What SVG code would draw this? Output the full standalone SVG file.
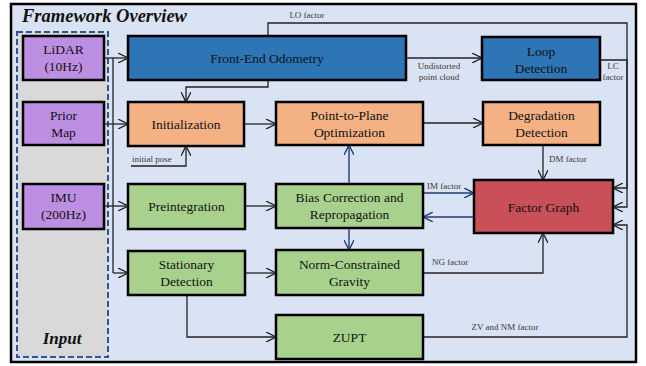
<svg xmlns="http://www.w3.org/2000/svg" width="646" height="366" viewBox="0 0 646 366">
<style>
text{font-family:"Liberation Serif","DejaVu Serif",serif;fill:#111}
.box{stroke:#000;stroke-width:2.5}
.lbl{font-size:13.5px;text-anchor:middle}
.sm{font-size:9px;fill:#3a3a3a}
.c{fill:none;stroke:#222;stroke-width:1.3}
.n{fill:none;stroke:#1f3c78;stroke-width:1.4}
.blue{fill:#2e75b6}.org{fill:#f4b183}.grn{fill:#a9d18e}.pur{fill:#bd8fe2}.red{fill:#c94f58}
</style>
<defs>
<marker id="a" viewBox="0 0 10 10" refX="10" refY="5" markerWidth="10" markerHeight="10" markerUnits="userSpaceOnUse" orient="auto"><path d="M0,0 L10,5 L0,10" fill="none" stroke="#222" stroke-width="1.3"/></marker>
<marker id="an" viewBox="0 0 10 10" refX="10" refY="5" markerWidth="10" markerHeight="10" markerUnits="userSpaceOnUse" orient="auto"><path d="M0,0 L10,5 L0,10" fill="none" stroke="#1f3c78" stroke-width="1.4"/></marker>
</defs>
<rect x="11" y="4" width="625" height="358" fill="#dae3f3" stroke="#000" stroke-width="2.5"/>
<text x="22" y="22" font-size="18.5" font-weight="bold" font-style="italic">Framework Overview</text>
<g id="input-panel">
<rect x="17" y="32" width="91" height="325" fill="#d9d9d9" stroke="#2f5597" stroke-width="2" stroke-dasharray="6,3"/>
<text x="62" y="344" font-size="17" font-weight="bold" font-style="italic" text-anchor="middle">Input</text>
</g>
<g id="connectors">
<path class="c" d="M104,58 H128" marker-end="url(#a)"/>
<path class="c" d="M113,58 V273"/>
<path class="c" d="M104,124 H128" marker-end="url(#a)"/>
<path class="c" d="M104,206 H128" marker-end="url(#a)"/>
<path class="c" d="M113,273 H128" marker-end="url(#a)"/>
<path class="c" d="M268,80 V87 H186 V102" marker-end="url(#a)"/>
<path class="c" d="M268,36 V23 H627 V207 H613" marker-end="url(#a)"/>
<path class="c" d="M600,60 H627 V188 H613" marker-end="url(#a)"/>
<path class="c" d="M406,58 H482" marker-end="url(#a)"/>
<path class="c" d="M131,166 H186 V146" marker-end="url(#a)"/>
<path class="c" d="M244,124 H276" marker-end="url(#a)"/>
<path class="c" d="M423,123 H483" marker-end="url(#a)"/>
<path class="c" d="M543,145 V180" marker-end="url(#a)"/>
<path class="c" d="M245,206 H276" marker-end="url(#a)"/>
<path class="n" d="M349,184 V145" marker-end="url(#an)"/>
<path class="n" d="M349,228 V250" marker-end="url(#an)"/>
<path class="n" d="M423,193 H474" marker-end="url(#an)"/>
<path class="n" d="M474,217 H423" marker-end="url(#an)"/>
<path class="c" d="M245,273 H276" marker-end="url(#a)"/>
<path class="c" d="M423,273 H543 V233" marker-end="url(#a)"/>
<path class="c" d="M187,295 V337 H276" marker-end="url(#a)"/>
<path class="c" d="M423,337 H627 V225 H613" marker-end="url(#a)"/>
<text class="sm" x="307" y="18" text-anchor="middle">LO factor</text>
<text class="sm" x="439" y="69" text-anchor="middle">Undistorted</text>
<text class="sm" x="439" y="80" text-anchor="middle">point cloud</text>
<text class="sm" x="613" y="69" text-anchor="middle">LC</text>
<text class="sm" x="613" y="80" text-anchor="middle">factor</text>
<text class="sm" x="132" y="162">initial pose</text>
<text class="sm" x="549" y="162">DM factor</text>
<text class="sm" x="427" y="189">IM factor</text>
<text class="sm" x="432" y="265">NG factor</text>
<text class="sm" x="505" y="330" text-anchor="middle">ZV and NM factor</text>
</g>
<g id="lidar"><rect class="box pur" x="23" y="36" width="81" height="44"/><text class="lbl" x="63.5" y="54">LiDAR</text><text class="lbl" x="63.5" y="71">(10Hz)</text></g>
<g id="prior-map"><rect class="box pur" x="23" y="102" width="81" height="43"/><text class="lbl" x="63.5" y="120">Prior</text><text class="lbl" x="63.5" y="137">Map</text></g>
<g id="imu"><rect class="box pur" x="23" y="184" width="81" height="45"/><text class="lbl" x="63.5" y="202">IMU</text><text class="lbl" x="63.5" y="219">(200Hz)</text></g>
<g id="front-end"><rect class="box blue" x="128" y="36" width="278" height="44"/><text class="lbl" x="267" y="63">Front-End Odometry</text></g>
<g id="loop"><rect class="box blue" x="482" y="37" width="118" height="43"/><text class="lbl" x="541" y="56">Loop</text><text class="lbl" x="541" y="73">Detection</text></g>
<g id="init"><rect class="box org" x="128" y="102" width="116" height="44"/><text class="lbl" x="186" y="129">Initialization</text></g>
<g id="p2p"><rect class="box org" x="276" y="102" width="147" height="43"/><text class="lbl" x="349.5" y="120">Point-to-Plane</text><text class="lbl" x="349.5" y="137">Optimization</text></g>
<g id="degradation"><rect class="box org" x="483" y="102" width="117" height="43"/><text class="lbl" x="541.5" y="120">Degradation</text><text class="lbl" x="541.5" y="137">Detection</text></g>
<g id="factor-graph"><rect class="box red" x="474" y="180" width="139" height="53"/><text class="lbl" x="543.5" y="212" font-size="14.5">Factor Graph</text></g>
<g id="preint"><rect class="box grn" x="128" y="184" width="117" height="45"/><text class="lbl" x="186.5" y="211">Preintegration</text></g>
<g id="bias"><rect class="box grn" x="276" y="184" width="147" height="44"/><text class="lbl" x="349.5" y="202">Bias Correction and</text><text class="lbl" x="349.5" y="219">Repropagation</text></g>
<g id="stationary"><rect class="box grn" x="128" y="251" width="117" height="44"/><text class="lbl" x="186.5" y="269">Stationary</text><text class="lbl" x="186.5" y="286">Detection</text></g>
<g id="norm"><rect class="box grn" x="276" y="250" width="147" height="45"/><text class="lbl" x="349.5" y="269">Norm-Constrained</text><text class="lbl" x="349.5" y="286">Gravity</text></g>
<g id="zupt"><rect class="box grn" x="276" y="315" width="147" height="44"/><text class="lbl" x="349.5" y="342">ZUPT</text></g>
</svg>
